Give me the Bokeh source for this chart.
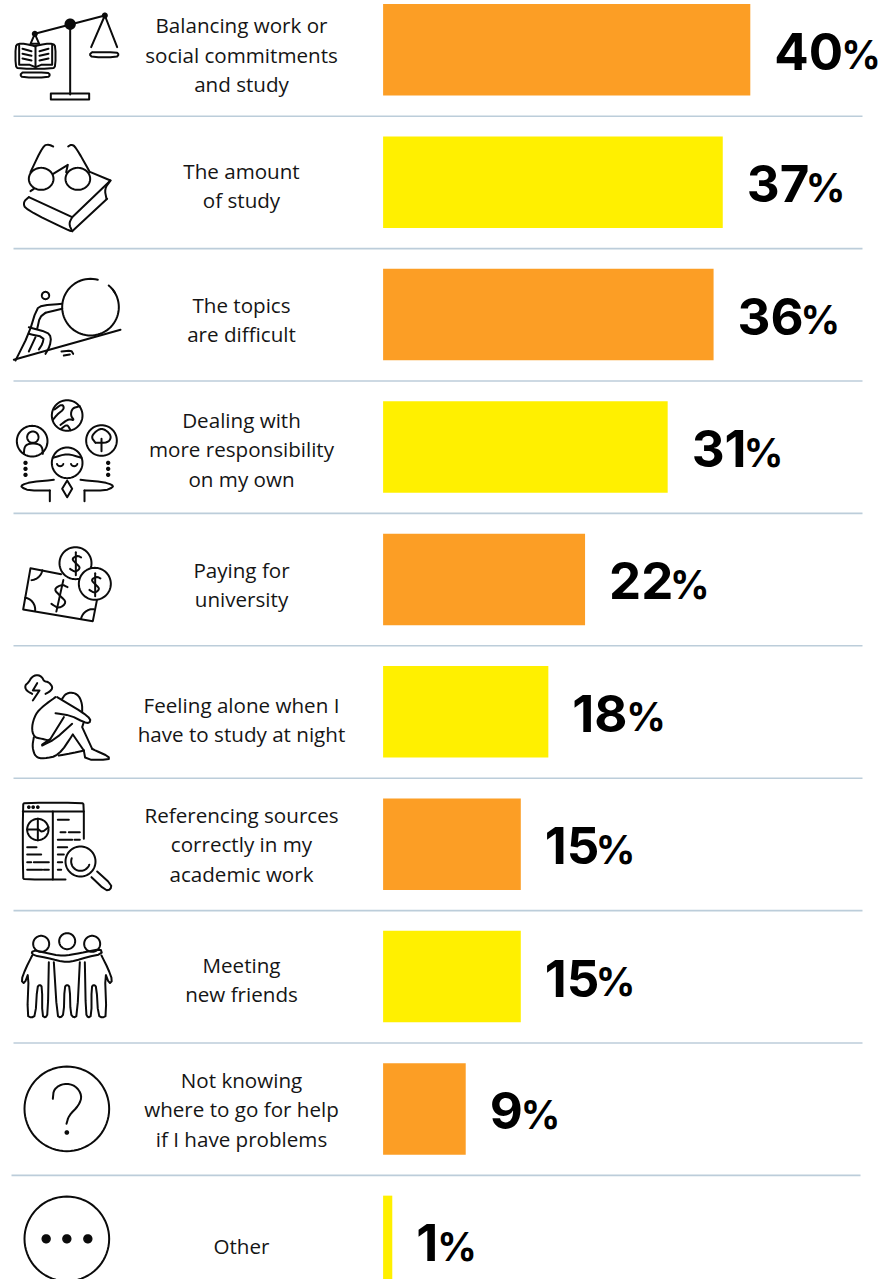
from math import cos, sin, radians
from bokeh.core.properties import value
from bokeh.embed import file_html
from bokeh.models import ColumnDataSource, Range1d
from bokeh.plotting import figure
from bokeh.resources import INLINE

# Survey results, one row per response
labels = [
    ["Balancing work or", "social commitments", "and study"],
    ["The amount", "of study"],
    ["The topics", "are difficult"],
    ["Dealing with", "more responsibility", "on my own"],
    ["Paying for", "university"],
    ["Feeling alone when I", "have to study at night"],
    ["Referencing sources", "correctly in my", "academic work"],
    ["Meeting", "new friends"],
    ["Not knowing", "where to go for help", "if I have problems"],
    ["Other"],
]
percent = [40, 37, 36, 31, 22, 18, 15, 15, 9, 1]
bar_colors = ["#FC9E25", "#FFF000"]

# Layout constants
WIDTH, HEIGHT = 895, 1279
BAR_LEFT, PX_PER_PCT = 382.6, 9.18
ROW_TOP, ROW_PITCH, BAR_H = 49.3, 132.4, 91.5
LINE_PITCH = 29.3
LABEL_SHIFT = [4.7, 3.2, 4.9, 2.2, 5, 8, 0.2, 3.2, 0.2, 5]
ICON_Y = [0, 0, 0, 385, 385, 385, 780, 780, 780, 780]
DIGIT_W = {"0": 34, "1": 22, "2": 31, "3": 31, "4": 34, "5": 30, "6": 33, "7": 29, "8": 33, "9": 32}
INK = "#0b0b0b"
LABEL_FONT = "Open Sans"
VALUE_FONT = "Inter"

p = figure(
    width=WIDTH, height=HEIGHT, output_backend="svg", toolbar_location=None,
    x_range=Range1d(-BAR_LEFT / PX_PER_PCT, (WIDTH - BAR_LEFT) / PX_PER_PCT),
    y_range=Range1d((HEIGHT - ROW_TOP) / ROW_PITCH, -ROW_TOP / ROW_PITCH),
    min_border=0, outline_line_color=None, background_fill_color="white",
)
p.axis.visible = False
p.grid.visible = False
p.extra_x_ranges["px"] = Range1d(0, WIDTH)
p.extra_y_ranges["py"] = Range1d(HEIGHT, 0)
PX = dict(x_range_name="px", y_range_name="py")

rows = list(range(len(percent)))
p.hbar(y=rows, left=0, right=percent, height=BAR_H / ROW_PITCH,
       fill_color=[bar_colors[i % 2] for i in rows], line_color=None)

# Row separators
for i in rows[:-1]:
    x0, x1 = (11, 860) if i == 8 else (13, 862)
    yy = ROW_TOP + 0.2 + ROW_PITCH * (i + 0.5)
    p.line([x0, x1], [yy, yy], line_color="#BCCDDA", line_width=1.6, **PX)

# Row captions
for i, lines in enumerate(labels):
    mid = ROW_TOP + ROW_PITCH * i + LABEL_SHIFT[i]
    ys = [mid + LINE_PITCH * (k - (len(lines) - 1) / 2) for k in range(len(lines))]
    p.text(x=[241] * len(lines), y=ys, text=lines, text_font=value(LABEL_FONT),
           text_font_size="20.6px", text_align="center", text_baseline="middle",
           text_color="#151515", **PX)

# Value labels: a heavy number followed by a lighter percent sign
for i, v in enumerate(percent):
    num = str(v)
    adv = sum(DIGIT_W[c] for c in num)
    p.text(x=[v], y=[i], text=[num], x_offset=24, y_offset=1.5, text_font=value(VALUE_FONT),
           text_font_style="bold", text_font_size="51px", text_baseline="middle",
           text_color="#000000")
    p.text(x=[v], y=[i], text=["%"], x_offset=23 + adv, y_offset=5, text_font=value(VALUE_FONT),
           text_font_style="bold", text_font_size="39px", text_baseline="middle",
           text_color="#000000")


# Icon line-art helpers; coordinates are on a 3x grid local to each icon group
def soft(pts, n=2):
    for _ in range(n):
        out = [pts[0]]
        for a, b in zip(pts, pts[1:]):
            out.append((0.75 * a[0] + 0.25 * b[0], 0.75 * a[1] + 0.25 * b[1]))
            out.append((0.25 * a[0] + 0.75 * b[0], 0.25 * a[1] + 0.75 * b[1]))
        out.append(pts[-1])
        pts = out
    return pts


def arc(cx, cy, r, a0=0, a1=360, ry=None):
    ry = r if ry is None else ry
    n = max(8, int(abs(a1 - a0) / 5))
    return [(cx + r * cos(radians(a0 + (a1 - a0) * k / n)),
             cy + ry * sin(radians(a0 + (a1 - a0) * k / n))) for k in range(n + 1)]


def mirror(pts, axis):
    return [(2 * axis - x, y) for x, y in pts]


def at(dx, dy, pts):
    return [(x + dx, y + dy) for x, y in pts]


back, front, shapes = [], [], []


def stroke(group, oy, *paths):
    for pts in paths:
        group.append(([x / 3 for x, _ in pts], [oy + y / 3 for _, y in pts]))


def shape(oy, pts, fill, line=INK):
    shapes.append(([x / 3 for x, _ in pts], [oy + y / 3 for _, y in pts], fill, line))


def dot(oy, cx, cy, r):
    shape(oy, arc(cx, cy, r), INK)


# Scales with an open book
o = ICON_Y[0]
stroke(front, o,
       [(103, 100), (313, 45)], [(209, 71), (209, 282)],
       [(151, 279), (266, 279), (266, 297), (151, 297), (151, 279)],
       [(313, 45), (272, 140)], [(313, 45), (350, 140)],
       soft([(275, 155), (348, 155), (355, 162), (348, 170), (275, 170), (267, 162), (275, 155)], 1),
       [(103, 100), (90, 130), (116, 130), (103, 100)],
       soft([(66, 216), (142, 216), (149, 223), (142, 231), (66, 231), (59, 223), (66, 216)], 1),
       soft([(103, 137), (75, 130), (52, 130), (45, 138), (45, 195), (52, 205), (158, 205), (165, 195),
             (165, 138), (158, 130), (133, 130), (103, 137)], 1),
       [(56, 135), (56, 193), (88, 193), (105, 200), (122, 193), (155, 193), (155, 135)],
       [(105, 137), (105, 200)],
       [(66, 145), (93, 152)], [(66, 160), (93, 166)], [(66, 174), (93, 180)],
       [(144, 145), (117, 152)], [(144, 160), (117, 166)], [(144, 174), (117, 180)])
dot(o, 209, 71, 14)
dot(o, 103, 100, 6)
dot(o, 313, 45, 6)

# Glasses resting on a book
stroke(front, o,
       arc(122, 535, 37, ry=33), arc(232, 535, 37, ry=33),
       soft([(90, 515), (128, 435), (145, 432), (158, 438)]),
       soft([(268, 515), (225, 438), (212, 432), (203, 438)]),
       [(158, 520), (202, 493), (197, 515)],
       [(270, 515), (330, 540), (215, 650), (85, 590)],
       soft([(85, 590), (68, 605), (75, 627), (205, 690), (215, 692)]),
       soft([(215, 650), (205, 670), (215, 692)]),
       [(215, 692), (320, 595)],
       soft([(330, 540), (312, 565), (318, 595)]),
       [(90, 572), (100, 565)])

# Climber pushing a boulder up a slope
stroke(front, o,
       arc(270, 920, 85, -50, 285), arc(270, 920, 85, -38, -30),
       [(40, 1078), (360, 988)],
       arc(135, 885, 11),
       soft(at(30, 825, [(155, 85), (95, 90), (78, 100), (55, 175), (15, 255)]), 1),
       at(30, 825, [(155, 100), (105, 112)]),
       soft(at(30, 825, [(105, 112), (88, 125), (80, 160)]), 1),
       soft(at(30, 825, [(55, 155), (110, 170), (122, 185), (118, 212), (105, 235)]), 1),
       soft(at(30, 825, [(55, 175), (100, 185), (96, 205), (85, 222)]), 1),
       at(30, 825, [(75, 185), (55, 228)]),
       soft([(183, 1053), (212, 1050), (218, 1060)], 1), [(190, 1065), (208, 1062)])

# Juggling thoughts: globe, person, tree
o = ICON_Y[3]
stroke(front, o,
       arc(200, 90, 46), arc(95, 167, 46), arc(303, 165, 46), arc(200, 232, 46),
       soft([(162, 72), (185, 55), (192, 70), (172, 85), (158, 102)]),
       soft([(238, 62), (215, 68), (210, 90), (222, 105), (204, 100), (180, 118)]),
       soft([(182, 130), (200, 116), (210, 134)]),
       arc(97, 155, 17),
       soft([(70, 205), (72, 183), (85, 174), (110, 174), (125, 183), (127, 205)]),
       soft([(285, 172), (272, 155), (285, 138), (303, 128), (322, 138), (333, 155), (322, 172), (285, 172)]),
       [(303, 160), (303, 197)],
       soft([(157, 217), (200, 204), (243, 217)]),
       arc(179, 232, 10, 20, 160), arc(221, 232, 10, 20, 160),
       [(200, 285), (215, 310), (200, 335), (185, 310), (200, 285)],
       soft([(160, 283), (90, 290), (65, 298), (62, 305), (85, 315), (148, 315)], 1),
       [(148, 315), (148, 347)],
       soft(mirror([(160, 283), (90, 290), (65, 298), (62, 305), (85, 315), (148, 315)], 200), 1),
       [(252, 315), (252, 347)])
for yd in (232, 250, 268):
    dot(o, 75, yd, 3.5)
    dot(o, 323, yd, 3.5)

# Banknote and coins
stroke(back, o,
       [(182, 566), (90, 548), (68, 672), (277, 707), (290, 640)],
       arc(90, 548, 36, 10, 85), arc(68, 672, 36, -80, 5), arc(277, 707, 36, 190, 275))
shape(o, arc(225, 533, 48), "white")
shape(o, arc(283, 595, 48), "white")
s_curve = [(22, -24), (6, -32), (-18, -18), (2, 2), (20, 20), (-2, 38), (-24, 24)]
for cx, cy, k in ((178, 630, 1.05), (226, 533, 0.72), (284, 596, 0.72)):
    stroke(front, o, soft([(cx + k * x, cy + k * y) for x, y in s_curve]),
           [(cx + k * 10, cy - k * 44), (cx - k * 10, cy + k * 46)] if k > 1
           else [(cx, cy - k * 46), (cx, cy + k * 50)])

# Distressed figure under a storm cloud
fig = lambda pts: at(45, 855, pts)
stroke(front, o,
       soft(fig([(50, 70), (32, 60), (28, 45), (40, 35), (48, 20), (65, 12), (80, 20), (85, 32), (100, 35),
                 (112, 50), (105, 62), (90, 70)])),
       fig([(65, 38), (52, 60), (72, 60), (52, 90)]),
       soft(fig([(120, 80), (85, 105), (60, 130), (48, 170), (55, 200), (80, 205), (100, 210)])),
       soft(fig([(140, 85), (150, 70), (170, 65), (190, 75), (200, 100), (200, 125)])),
       soft(fig([(125, 80), (150, 95), (200, 125), (225, 145), (222, 158), (205, 155), (165, 135), (120, 128)]), 1),
       fig([(145, 140), (105, 205), (80, 222)]),
       soft(fig([(170, 160), (120, 205), (80, 225)]), 1),
       fig([(205, 155), (200, 170), (230, 235)]),
       fig([(172, 192), (205, 240)]),
       soft(fig([(55, 200), (50, 230), (60, 260), (85, 265), (130, 255), (172, 192)])),
       soft(fig([(130, 255), (170, 248), (205, 240)]), 1),
       soft(fig([(205, 240), (210, 268), (280, 268), (280, 258), (240, 240), (230, 235)]), 1))

# Report window under a magnifying glass
o = ICON_Y[6]
stroke(back, o,
       soft([(250, 175), (250, 72), (245, 67), (72, 67), (67, 72), (67, 292), (72, 297), (195, 297)], 1),
       [(67, 93), (250, 93)], [(157, 93), (157, 297)],
       arc(112, 147, 32), [(112, 115), (112, 179)], [(80, 147), (114, 147)],
       soft([(114, 147), (125, 155), (144, 140)], 1),
       [(80, 200), (108, 200)], [(80, 222), (122, 222)],
       [(80, 245), (92, 245)], [(100, 245), (145, 245)],
       [(80, 268), (125, 268)], [(130, 268), (145, 268)],
       [(172, 118), (205, 118)], [(180, 155), (195, 155)], [(205, 155), (238, 155)],
       [(172, 178), (215, 178)], [(222, 178), (238, 178)],
       [(172, 200), (200, 200)], [(172, 222), (190, 222)],
       [(172, 245), (185, 245)], [(172, 268), (182, 268)])
for xd in (85, 98, 112):
    dot(o, xd, 80, 2.5)
shape(o, arc(240, 243, 45), "white")
stroke(front, o,
       arc(240, 243, 28, 20, 200),
       soft([(273, 290), (315, 330), (330, 327), (333, 312), (290, 273)], 1))

# Three friends, arms over shoulders
left_body = [(95, 525), (75, 565), (62, 600), (72, 610), (85, 575), (80, 705), (92, 712), (105, 705),
             (110, 620), (118, 612), (125, 620), (125, 705), (135, 712), (142, 700), (145, 545)]
stroke(front, o,
       arc(122, 490, 24), arc(200, 482, 24), arc(275, 490, 24),
       soft([(105, 510), (140, 518), (175, 525), (200, 525), (225, 520), (255, 515), (300, 505), (305, 520),
             (260, 530), (225, 540), (200, 545), (170, 540), (140, 532), (100, 525), (92, 515), (105, 510)], 1),
       soft(left_body, 1), soft(mirror(left_body, 199), 1),
       soft([(160, 545), (170, 705), (180, 712), (190, 700), (192, 620), (200, 612), (208, 620), (210, 700),
             (220, 712), (230, 705), (238, 545)], 1))

# Question mark and ellipsis badges
stroke(front, o,
       arc(199, 985, 127),
       soft([(157, 955), (160, 925), (190, 908), (225, 915), (245, 945), (235, 975), (205, 1005), (198, 1030)]),
       arc(199, 1375, 127))
dot(o, 199, 1056, 4)
for xd in (137, 199, 262):
    dot(o, xd, 1375, 11)


def draw_strokes(group):
    src = ColumnDataSource(dict(xs=[g[0] for g in group], ys=[g[1] for g in group]))
    p.multi_line("xs", "ys", source=src, line_color=INK, line_width=2, line_cap="round",
                 line_join="round", **PX)


draw_strokes(back)
p.patches([s[0] for s in shapes], [s[1] for s in shapes], fill_color=[s[2] for s in shapes],
          line_color=INK, line_width=2, **PX)
draw_strokes(front)

open("out.html", "w").write(file_html(p, INLINE))
